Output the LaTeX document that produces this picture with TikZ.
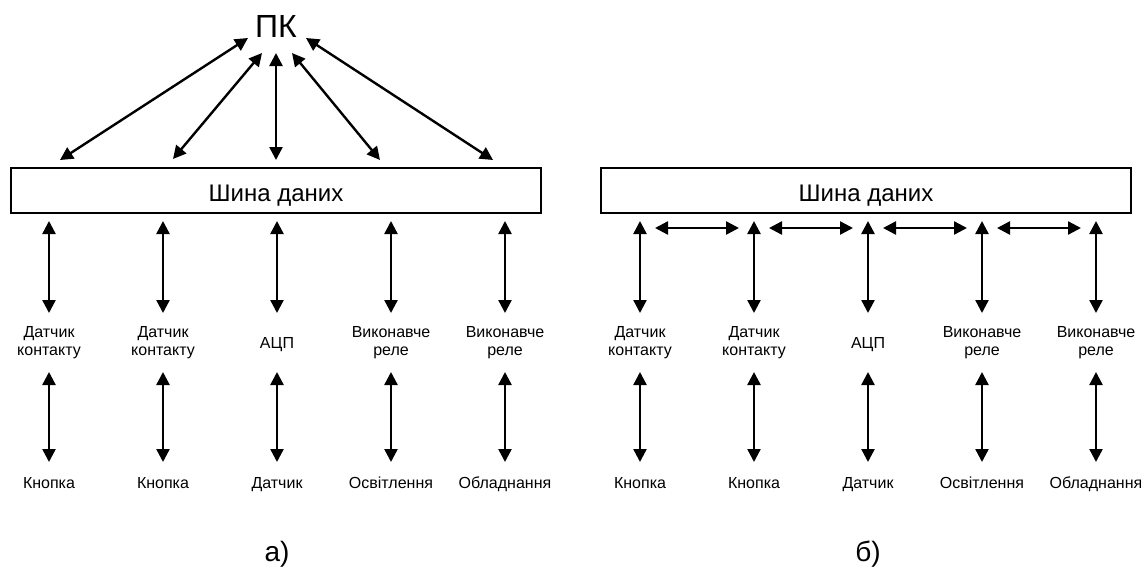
\documentclass[tikz,border=0pt]{standalone}
\usepackage{fontspec}
\setmainfont{Liberation Sans}
\usetikzlibrary{arrows.meta}
\begin{document}
\begin{tikzpicture}[x=1pt,y=-1pt,
  dbl/.style={{Triangle[length=13pt,width=13pt]}-{Triangle[length=13pt,width=13pt]}, line width=2.4pt},
  bus/.style={draw, line width=1.8pt, minimum width=530pt, minimum height=45pt,
    font=\fontsize{24}{26}\selectfont, inner sep=0pt, text height=21pt, text depth=0pt},
  lbl/.style={font=\fontsize{16}{18}\selectfont, align=center, inner sep=0pt},
  one/.style={lbl, anchor=base},
  panelcaption/.style={font=\fontsize{28}{30}\selectfont, inner sep=0pt, anchor=base}]
\useasboundingbox (0,0) rectangle (1141,566);

% ---------------- panel a ----------------
\node[font=\fontsize{32}{34}\selectfont, inner sep=0pt, anchor=base] (pc) at (276,37) {ПК};
\node[bus] (busA) at (276,190.5) {Шина даних};

\foreach \i/\x in {1/49,2/163,3/277,4/391,5/505}{
  \coordinate (aT\i) at (\x,221);
  \coordinate (aM\i) at (\x,313);
  \coordinate (aN\i) at (\x,372);
  \coordinate (aB\i) at (\x,462);
}
\node[lbl] (a1) at (49,343) {Датчик\\контакту};
\node[lbl] (a2) at (163,343) {Датчик\\контакту};
\node[one] (a3) at (277,348) {АЦП};
\node[lbl] (a4) at (391,343) {Виконавче\\реле};
\node[lbl] (a5) at (505,343) {Виконавче\\реле};
\node[one] (ab1) at (49,488) {Кнопка};
\node[one] (ab2) at (163,488) {Кнопка};
\node[one] (ab3) at (277,488) {Датчик};
\node[one] (ab4) at (391,488) {Освітлення};
\node[one] (ab5) at (505,488) {Обладнання};

\foreach \i in {1,...,5}{
  \draw[dbl] (aT\i) -- (aM\i);
  \draw[dbl] (aN\i) -- (aB\i);
}

% links from the PC to the bus
\coordinate (p1) at (248,38);
\coordinate (p2) at (262,53);
\coordinate (p3) at (276,53);
\coordinate (p4) at (292,53);
\coordinate (p5) at (306,38);
\coordinate (q1) at (60,160);
\coordinate (q2) at (173,159);
\coordinate (q3) at (276,160);
\coordinate (q4) at (380,160);
\coordinate (q5) at (493,160);
\foreach \i in {1,...,5}{ \draw[dbl] (p\i) -- (q\i); }

\node[panelcaption] (capA) at (277,561) {а)};

% ---------------- panel b ----------------
\node[bus] (busB) at (866,190.5) {Шина даних};

\foreach \i/\x in {1/640,2/754,3/868,4/982,5/1096}{
  \coordinate (bT\i) at (\x,221);
  \coordinate (bM\i) at (\x,313);
  \coordinate (bN\i) at (\x,372);
  \coordinate (bB\i) at (\x,462);
}
\node[lbl] (b1) at (640,343) {Датчик\\контакту};
\node[lbl] (b2) at (754,343) {Датчик\\контакту};
\node[one] (b3) at (868,348) {АЦП};
\node[lbl] (b4) at (982,343) {Виконавче\\реле};
\node[lbl] (b5) at (1096,343) {Виконавче\\реле};
\node[one] (bb1) at (640,488) {Кнопка};
\node[one] (bb2) at (754,488) {Кнопка};
\node[one] (bb3) at (868,488) {Датчик};
\node[one] (bb4) at (982,488) {Освітлення};
\node[one] (bb5) at (1096,488) {Обладнання};

\foreach \i in {1,...,5}{
  \draw[dbl] (bT\i) -- (bM\i);
  \draw[dbl] (bN\i) -- (bB\i);
}

% links between neighbouring devices
\foreach \i/\l/\r in {1/655/739,2/769/853,3/883/967,4/997/1081}{
  \coordinate (hL\i) at (\l,228);
  \coordinate (hR\i) at (\r,228);
  \draw[dbl] (hL\i) -- (hR\i);
}

\node[panelcaption] (capB) at (868,561) {б)};
\end{tikzpicture}
\end{document}
